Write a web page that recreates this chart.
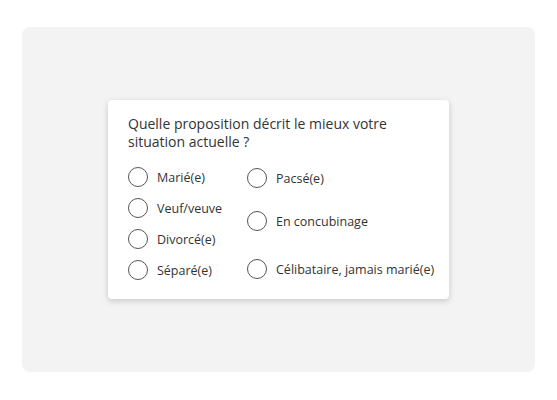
<!DOCTYPE html>
<html><head><meta charset="utf-8">
<script src="https://cdn.jsdelivr.net/npm/chart.js@4"></script>
<style>
body{margin:0;width:557px;height:400px;background:#fff;font-family:"Open Sans",sans-serif;color:#333;}
#panel{position:absolute;left:22px;top:27px;width:513px;height:345px;background:#f3f3f3;border-radius:8px;}
#card{position:absolute;left:108px;top:100px;width:341px;height:199px;background:#fff;border-radius:4px;box-shadow:0 2px 6px rgba(0,0,0,0.18);}
#title{position:absolute;left:20px;top:15px;font-size:14px;line-height:18px;width:300px;}
.opt{position:absolute;font-size:12.5px;display:flex;align-items:center;}
.opt span.c{width:18px;height:18px;border:1.3px solid #555;border-radius:50%;margin-right:9px;box-sizing:border-box;width:20px;height:20px;}
</style></head><body>
<div id="panel"></div>
<div id="card"><div id="title"></div></div>
<script>
const question = "Quelle proposition décrit le mieux votre situation actuelle ?";
const leftOptions = ["Marié(e)","Veuf/veuve","Divorcé(e)","Séparé(e)"];
const rightOptions = ["Pacsé(e)","En concubinage","Célibataire, jamais marié(e)"];
const leftY = [77,108,139,170];
const rightY = [78,121,169];
const card=document.getElementById('card');
document.getElementById('title').textContent=question;
function add(t,x,y){const d=document.createElement('div');d.className='opt';d.style.left=x+'px';d.style.top=(y-10)+'px';d.innerHTML='<span class="c"></span>';d.appendChild(document.createTextNode(t));card.appendChild(d);}
leftOptions.forEach((t,i)=>add(t,20,leftY[i]));
rightOptions.forEach((t,i)=>add(t,139,rightY[i]));
</script>
</body></html>
